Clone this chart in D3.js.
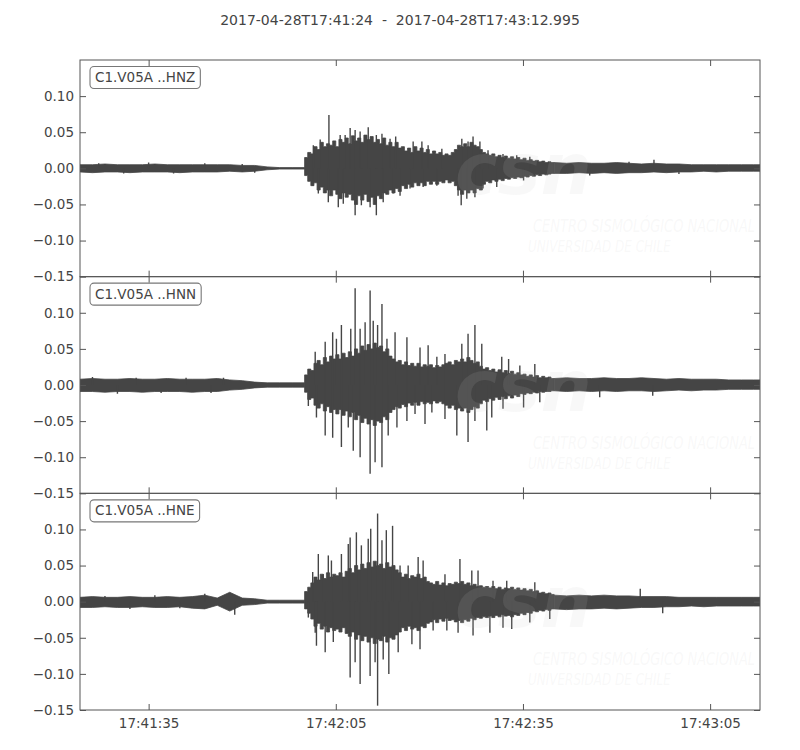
<!DOCTYPE html>
<html><head><meta charset="utf-8">
<script src="https://cdn.jsdelivr.net/npm/d3@7"></script>
<style>body{margin:0;background:#fff} svg{display:block;font-family:"DejaVu Sans",sans-serif}</style>
</head><body><svg id="c" width="800" height="750"></svg>
<script>
// ---- data ----
// time: seconds after 2017-04-28T17:41:24 ; amplitudes below in units of 0.001
const titleText = "2017-04-28T17:41:24  -  2017-04-28T17:43:12.995";
const channels = ["C1.V05A ..HNZ", "C1.V05A ..HNN", "C1.V05A ..HNE"];
const yTicks = [-0.15, -0.10, -0.05, 0.00, 0.05, 0.10];
const xTickLabels = ["17:41:35", "17:42:05", "17:42:35", "17:43:05"];

// sampling grid of the envelope readings: pre-event (2 s), event (0.5 s), coda (2 s)
const gridPre  = [0,2,4,6,8,10,12,14,16,18,20,22,24,26,28,30,32,34];
const gridEvtStart = 36, gridEvtStep = 0.5, gridEvtCount = 80;
const gridCoda = [76,78,80,82,84,86,88,90,92,94,96,98,100,102,104,106,108];

// HNZ envelope (max / min per interval, x0.001)
const upZ = [5,5,6,5,5,5,6,5,5,5,5,5,5,4,4,2,1,1,
  15,22,20,30,26,36,30,34,32,38, 30,40,36,42,34,45,38,42,36,46, 40,44,36,40,34,42,32,36,30,36,
  28,30,24,28,22,30,24,28,22,26, 20,24,20,22,18,20,18,22,26,32, 30,34,30,36,32,30,26,22,20,18,
  20,16,18,15,17,14,16,13,15,12, 14,11,12,10,11,9,10,8,9,8,
  8,7,8,7,7,8,7,6,7,6,6,5,5,5,5,5,5];
const loZ = [-5,-6,-5,-5,-6,-5,-5,-5,-6,-5,-5,-5,-4,-5,-4,-2,-1,-1,
  -10,-18,-24,-20,-30,-26,-34,-30,-38,-30, -36,-42,-34,-40,-36,-44,-50,-38,-44,-36, -46,-40,-50,-38,-42,-34,-36,-30,-34,-28,
  -32,-24,-28,-22,-26,-20,-24,-20,-24,-18, -22,-18,-22,-18,-20,-16,-20,-18,-24,-30, -36,-30,-34,-30,-34,-28,-30,-22,-18,-20,
  -16,-18,-15,-17,-14,-15,-13,-14,-12,-13, -11,-12,-10,-11,-9,-10,-8,-9,-8,-7,
  -7,-7,-6,-7,-6,-7,-6,-6,-5,-6,-5,-5,-4,-5,-4,-4,-4];
// HNZ individual peaks (time s, amplitude x0.001)
const pkZt = [37.4,38.5,39.9,41.7,42.5,43.3,44.1,44.9,46.2,47.5,48.4,49.7,50.6,53.4,54.8,55.8,58.0,61.2,62.2,63.0,64.1,65.4,67.8,70,72.1,92,
              37.3,38.2,39.8,41.4,42.2,44.1,45.1,46.5,47.5,48.6,50.2,51.3,52.9,55,57.2,60.6,61.1,62,63.3,64.6,66.8,71.1,81.7,
              3,7,11,15,20,26,28,88,96];
const pkZv = [32,40,74,46,46,56,53,51,57,46,48,41,44,37,37,32,27,41,37,44,37,25,20,18,16,12,
              -24,-35,-47,-54,-49,-65,-51,-54,-65,-47,-35,-38,-28,-26,-24,-38,-51,-42,-40,-28,-26,-17,-10,
              7,-7,8,-7,7,6,-6,9,-8];

// HNN envelope
const upN = [8,9,8,8,9,8,8,9,8,8,8,9,7,6,4,3,3,3,
  14,22,20,30,34,28,38,32,40,36, 42,36,44,38,46,40,50,44,54,48, 56,50,58,52,54,46,50,40,36,32,
  34,28,32,27,30,26,30,25,28,26, 28,24,27,25,28,30,32,28,34,32, 36,32,38,34,30,32,26,22,24,20,
  22,18,21,17,20,16,19,15,17,14, 15,12,14,11,13,10,12,10,11,9,
  9,10,9,9,10,9,9,10,9,8,9,8,8,8,7,7,7];
const loN = [-9,-9,-10,-9,-9,-10,-9,-9,-9,-10,-9,-9,-7,-6,-4,-3,-3,-3,
  -10,-20,-18,-28,-32,-26,-36,-30,-38,-34, -40,-34,-42,-36,-44,-38,-48,-42,-52,-46, -54,-48,-56,-50,-52,-44,-48,-38,-34,-30,
  -32,-27,-30,-25,-28,-24,-28,-23,-26,-24, -26,-22,-25,-23,-26,-28,-32,-28,-34,-32, -36,-32,-38,-34,-30,-32,-26,-21,-23,-19,
  -21,-17,-20,-16,-19,-15,-18,-14,-16,-12, -13,-11,-12,-10,-11,-9,-10,-9,-9,-8,
  -8,-9,-8,-9,-8,-9,-8,-8,-9,-8,-7,-8,-7,-7,-6,-6,-6];
const pkNt = [37.7,39.3,40.5,41.1,41.9,43.4,44.1,44.9,45.7,46.5,47,47.7,48.4,49.2,50.5,52.4,54.5,55.8,57.2,58.5,61.2,62.2,63.3,64.4,67.6,68.7,70.5,72.9,
              36.6,37.9,39.3,40.5,41.9,43,43.8,44.9,46.5,47.3,48.4,49.4,50.8,52.4,53.7,55.3,56.4,58.5,60.4,62.2,63.3,65.2,66,67.8,71.1,73.7,83.3,91.8,
              2,6,9,13,17,21,23];
const pkNv = [46,60,73,64,83,78,134,78,87,131,89,83,112,64,73,66,52,55,39,43,57,71,83,57,39,36,27,29,
              -29,-45,-70,-73,-86,-59,-91,-100,-123,-107,-114,-70,-59,-50,-40,-54,-38,-47,-70,-79,-50,-63,-45,-33,-31,-24,-17,-15,
              11,-12,10,-11,10,-11,10];

// HNE envelope
const upE = [6,7,6,6,7,6,6,7,6,7,9,5,13,5,4,2,2,2,
  14,20,26,34,30,38,32,40,34,38, 36,40,34,42,46,40,50,44,52,46, 54,48,56,50,52,46,54,48,50,44,
  40,34,38,32,36,34,38,32,34,28, 26,24,28,23,26,22,25,24,27,25, 28,24,26,22,24,21,22,20,21,19,
  21,18,20,17,19,18,20,17,19,16, 18,15,17,14,15,12,13,11,12,10,
  9,8,9,8,9,8,8,7,7,7,6,6,6,6,6,6,6];
const loE = [-8,-8,-7,-8,-8,-7,-8,-8,-7,-9,-10,-5,-13,-5,-4,-2,-2,-2,
  -10,-16,-24,-34,-30,-38,-34,-42,-36,-40, -38,-42,-36,-44,-48,-42,-52,-46,-54,-48, -56,-50,-58,-52,-54,-48,-56,-50,-52,-46,
  -42,-36,-40,-34,-38,-36,-40,-34,-36,-30, -28,-25,-29,-24,-27,-23,-26,-25,-28,-26, -29,-25,-27,-23,-25,-22,-23,-21,-22,-20,
  -22,-19,-21,-18,-20,-19,-21,-18,-19,-16, -18,-15,-16,-13,-14,-12,-13,-11,-12,-10,
  -10,-11,-10,-10,-9,-10,-9,-8,-8,-7,-7,-6,-7,-6,-6,-6,-6];
const pkEt = [37.3,38.2,39,39.8,40.3,41.9,43,43.3,44.3,45.1,46.2,46.6,47.7,48.4,49.1,50.1,51.3,52.6,54.2,55,58.5,60.9,62.8,63.8,66.2,68.4,72.9,89.8,
              36.6,37.7,37.9,39.3,40.6,43.3,44.1,44.9,46.5,47.3,47.7,48.6,49.5,51,53.2,54.5,56.6,58.8,60.6,63,65.7,67.8,69.2,72.1,75.3,93.4,
              4,8,12,16,20,24.8];
const pkEv = [41,66,38,64,57,66,80,89,96,78,87,101,122,85,99,105,50,50,62,57,38,59,43,43,29,29,27,18,
              -22,-43,-61,-70,-56,-105,-84,-114,-103,-84,-144,-80,-100,-70,-59,-66,-40,-40,-43,-47,-43,-36,-38,-29,-24,-16,
              8,-10,9,-9,11,-18];

// ---- chart ----
const svg = d3.select("#c");
const textCol = "#444", traceCol = "#454545", frameCol = "#555";
const fs = 13.5;
const start = Date.UTC(2017, 3, 28, 17, 41, 24);
const endSec = 108.995;
const toDate = t => new Date(start + t * 1000);
const left = 80, right = 760, top0 = 60, bottom = 710;
const ph = (bottom - top0) / 3;
const x = d3.scaleUtc().domain([toDate(0), toDate(endSec)]).range([left, right]);
const xTickDates = xTickLabels.map(s => { const [h, m, sec] = s.split(":").map(Number); return new Date(Date.UTC(2017, 3, 28, h, m, sec)); });
const gridEvt = d3.range(gridEvtCount).map(k => gridEvtStart + k * gridEvtStep);
const nPre = gridPre.length, nEvt = gridEvtCount;

svg.append("text").attr("x", 400).attr("y", 25).attr("text-anchor", "middle")
  .attr("font-size", 14).attr("fill", textCol).style("white-space", "pre").text(titleText);

const series = [
  {up: upZ, lo: loZ, pt: pkZt, pv: pkZv},
  {up: upN, lo: loN, pt: pkNt, pv: pkNv},
  {up: upE, lo: loE, pt: pkEt, pv: pkEv}
];

series.forEach((s, i) => {
  const top = top0 + i * ph, bot = top + ph;
  const y = d3.scaleLinear().domain([-0.15, 0.15]).range([bot, top]);
  const g = svg.append("g");
  const cid = "clip" + i;
  svg.append("clipPath").attr("id", cid).append("rect")
    .attr("x", left).attr("y", top).attr("width", right - left).attr("height", ph);
  const pg = g.append("g").attr("clip-path", `url(#${cid})`);
  const mk = (t, k) => ({t, up: s.up[k] / 1000, lo: s.lo[k] / 1000});
  const pre = gridPre.map((t, k) => mk(t, k));
  pre.push({t: gridEvtStart, up: pre[nPre - 1].up, lo: pre[nPre - 1].lo});
  const evt = gridEvt.map((t, k) => mk(t, nPre + k));
  evt.push({t: gridCoda[0], up: evt[nEvt - 1].up, lo: evt[nEvt - 1].lo});
  const coda = gridCoda.map((t, k) => mk(t, nPre + nEvt + k));
  coda.push({t: endSec, up: coda[coda.length - 1].up, lo: coda[coda.length - 1].lo});
  const areaLin = d3.area().x(d => x(toDate(d.t))).y0(d => y(d.lo)).y1(d => y(d.up));
  const areaStep = d3.area().curve(d3.curveStepAfter).x(d => x(toDate(d.t))).y0(d => y(d.lo)).y1(d => y(d.up));
  [[pre, areaLin], [evt, areaStep], [coda, areaLin]].forEach(([data, gen]) => {
    pg.append("path").datum(data).attr("d", gen)
      .attr("fill", traceCol).attr("stroke", traceCol).attr("stroke-width", 0.8);
  });
  pg.selectAll("line.pk").data(s.pt.map((t, k) => ({t, v: s.pv[k] / 1000}))).join("line")
    .attr("x1", d => x(toDate(d.t))).attr("x2", d => x(toDate(d.t)))
    .attr("y1", y(0)).attr("y2", d => y(d.v))
    .attr("stroke", traceCol).attr("stroke-width", 1.4);

  // faint watermark
  const wm = pg.append("g").attr("fill", "#c8c8c8").attr("fill-opacity", 0.12).attr("pointer-events", "none");
  wm.append("text").attr("x", 455).attr("y", top + 134).attr("font-size", 72).attr("font-style", "italic")
    .attr("font-weight", "bold").text("csn");
  wm.append("g").attr("transform", `translate(533,${top + 172}) scale(1,1.35)`)
    .append("text").attr("font-size", 13).attr("font-style", "italic").text("CENTRO SISMOLÓGICO NACIONAL");
  wm.append("g").attr("transform", `translate(528,${top + 192}) scale(1,1.35)`)
    .append("text").attr("font-size", 12).attr("font-style", "italic").text("UNIVERSIDAD DE CHILE");

  // axes
  const yFmt = d3.format(".2f");
  const ya = g.append("g").attr("transform", `translate(${left},0)`)
    .call(d3.axisLeft(y).tickValues(yTicks).tickSize(-6).tickPadding(6).tickFormat(yFmt));
  const yb = g.append("g").attr("transform", `translate(${right},0)`)
    .call(d3.axisRight(y).tickValues(yTicks).tickSize(-6).tickFormat(""));
  const xa = g.append("g").attr("transform", `translate(0,${top})`)
    .call(d3.axisTop(x).tickValues(xTickDates).tickSize(-6).tickFormat(""));
  const xb = g.append("g").attr("transform", `translate(0,${bot})`)
    .call(d3.axisBottom(x).tickValues(xTickDates).tickSize(-6).tickPadding(8)
      .tickFormat((d, k) => i === 2 ? xTickLabels[k] : ""));
  [ya, yb, xa, xb].forEach(a => {
    a.select(".domain").remove();
    a.selectAll("line").attr("stroke", frameCol);
    a.selectAll("text").attr("fill", textCol).attr("font-size", fs).attr("font-family", "DejaVu Sans");
  });
  g.append("rect").attr("x", left).attr("y", top).attr("width", right - left).attr("height", ph)
    .attr("fill", "none").attr("stroke", frameCol).attr("stroke-width", 1);

  // label box
  const lb = g.append("g");
  const tx = lb.append("text").attr("x", 95).attr("y", top + 22).attr("font-size", fs).attr("fill", textCol).text(channels[i]);
  const bb = tx.node().getBBox();
  lb.insert("rect", "text").attr("x", bb.x - 5).attr("y", top + 6.5).attr("width", bb.width + 10).attr("height", 22)
    .attr("rx", 4).attr("fill", "#fff").attr("stroke", "#777").attr("stroke-width", 1.1);
});
</script></body></html>
